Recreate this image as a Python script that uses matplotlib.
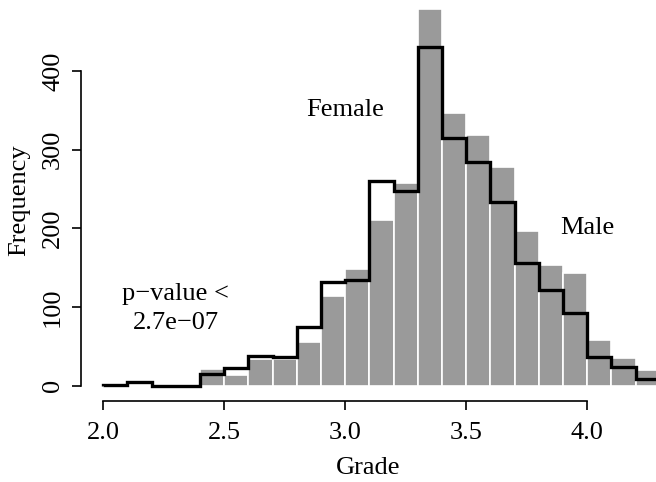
import numpy as np
import matplotlib
matplotlib.use('Agg')
import matplotlib.pyplot as plt

plt.rcParams['font.family'] = ['Liberation Serif', 'DejaVu Serif']

# histogram bins (grade)
bin_edges = [2.0, 2.1, 2.2, 2.3, 2.4, 2.5, 2.6, 2.7, 2.8, 2.9, 3.0, 3.1,
             3.2, 3.3, 3.4, 3.5, 3.6, 3.7, 3.8, 3.9, 4.0, 4.1, 4.2, 4.3]

# counts per bin
female_counts = [1, 5, 0, 0, 15, 22, 38, 37, 74, 132, 134, 260, 247, 430,
                 315, 284, 234, 156, 122, 92, 37, 24, 9]
male_counts = [0, 0, 0, 0, 21, 14, 34, 34, 56, 114, 148, 210, 258, 478,
               346, 318, 278, 196, 154, 143, 58, 35, 20]

x_ticks = [2.0, 2.5, 3.0, 3.5, 4.0]
y_ticks = [0, 100, 200, 300, 400]

fs = 19  # font size used everywhere

fig = plt.figure(figsize=(6.56, 4.82), dpi=100)
ax = fig.add_axes([0.123, 0.168, 0.877, 0.832])

# gray bars for male, black outline for female
ax.bar(bin_edges[:-1], male_counts, width=0.1, align='edge',
       color='#9a9a9a', edgecolor='white', linewidth=1.2, zorder=1)
ax.stairs(female_counts, bin_edges, color='black', linewidth=2.4, zorder=2)

ax.text(3.0, 350, 'Female', fontsize=fs, ha='center', va='center')
ax.text(4.0, 200, 'Male', fontsize=fs, ha='center', va='center')
ax.text(2.3, 98, 'p\u2212value <\n2.7e\u221207', fontsize=fs,
        ha='center', va='center', linespacing=1.4)

ax.set_xlim(1.9066, 4.284)
ax.set_ylim(-19.4, 490)

# R style axes: only the tick range is drawn
for side in ['top', 'right']:
    ax.spines[side].set_visible(False)
ax.spines['left'].set_bounds(0, 400)
ax.spines['bottom'].set_bounds(2.0, 4.0)
ax.spines['left'].set_linewidth(1.2)
ax.spines['bottom'].set_linewidth(1.2)

ax.set_xticks(x_ticks)
ax.set_xticklabels(['%.1f' % t for t in x_ticks])
ax.set_yticks(y_ticks)
ax.set_yticklabels([str(t) for t in y_ticks], rotation=90, va='center')
ax.tick_params(direction='out', length=6.5, width=1.2, labelsize=fs)
ax.tick_params(axis='x', pad=8.5)
ax.tick_params(axis='y', pad=5.5)

ax.set_xlabel('Grade', fontsize=fs, labelpad=9.5)
ax.set_ylabel('Frequency', fontsize=fs, labelpad=8.5)

fig.savefig('out.png', dpi=100)
